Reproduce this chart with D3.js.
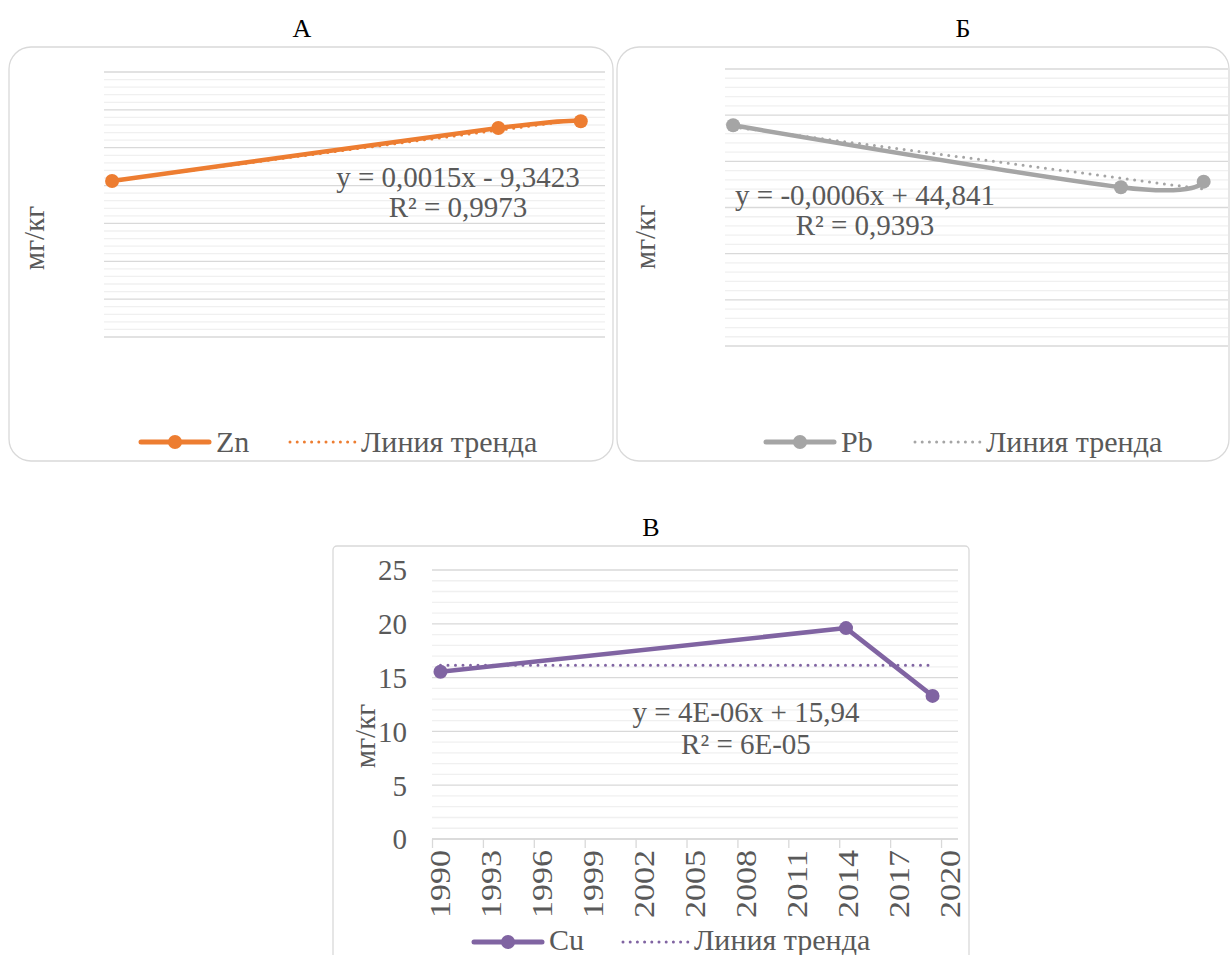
<!DOCTYPE html>
<html><head><meta charset="utf-8">
<script src="https://cdn.jsdelivr.net/npm/d3@7/dist/d3.min.js"></script>
<style>body{margin:0;background:#fff}svg{display:block}</style>
</head><body>
<svg id="c" width="1230" height="955"></svg>
<script>
// ---- data ----
const years = [1990.5, 2014.4, 2019.5];
const zn = [41.2, 55.2, 57.0];
const pb = [23.9, 17.2, 17.8];
const cu = [15.55, 19.6, 13.3];
const xTicks = [1990, 1993, 1996, 1999, 2002, 2005, 2008, 2011, 2014, 2017, 2020];
const cuYTicks = [0, 5, 10, 15, 20, 25];
const panelTitles = ["А", "Б", "В"];
const seriesNames = ["Zn", "Pb", "Cu"];
const trendLabel = "Линия тренда";
const yAxisTitle = "мг/кг";
const eqLines = [
  ["y = 0,0015x - 9,3423", "R² = 0,9973"],
  ["y = -0,0006x + 44,841", "R² = 0,9393"],
  ["y = 4E-06x + 15,94", "R² = 6E-05"]
];

const svg = d3.select("#c");
const FF = "Liberation Serif";
const TXT = "#595959";

function linreg(xs, ys) {
  const n = xs.length, mx = d3.mean(xs), my = d3.mean(ys);
  let sxy = 0, sxx = 0;
  for (let i = 0; i < n; i++) { sxy += (xs[i]-mx)*(ys[i]-my); sxx += (xs[i]-mx)**2; }
  const b = sxy/sxx; return x => my + b*(x-mx);
}

function panel(cfg) {
  const g = svg.append("g");
  g.append("rect").attr("x", cfg.box[0]).attr("y", cfg.box[1])
    .attr("width", cfg.box[2]).attr("height", cfg.box[3])
    .attr("rx", cfg.rx).attr("fill", "#fff").attr("stroke", "#d9d9d9").attr("stroke-width", 1.3);
  g.append("text").attr("x", cfg.title[0]).attr("y", cfg.title[1]).attr("text-anchor", "middle")
    .style("font-family", FF).attr("font-size", 26).attr("fill", "#000").text(cfg.titleText);

  const x = d3.scaleLinear().domain([1990, 2021]).range([cfg.plot[0], cfg.plot[1]]);
  const y = d3.scaleLinear().domain([0, cfg.ymax]).range([cfg.plot[3], cfg.plot[2]]);

  const minors = d3.range(0, cfg.ymax + 1e-9, cfg.minor).filter(v => Math.abs(v / cfg.major - Math.round(v / cfg.major)) > 1e-6);
  g.append("g").selectAll("line").data(minors).join("line")
    .attr("x1", cfg.plot[0]).attr("x2", cfg.plot[1]).attr("y1", d => y(d)).attr("y2", d => y(d))
    .attr("stroke", "#f0f0f0").attr("stroke-width", 1.3);
  const majors = d3.range(0, cfg.ymax + 1e-9, cfg.major);
  g.append("g").selectAll("line").data(majors).join("line")
    .attr("x1", cfg.plot[0]).attr("x2", cfg.plot[1]).attr("y1", d => y(d)).attr("y2", d => y(d))
    .attr("stroke", "#d9d9d9").attr("stroke-width", 1.3);

  if (cfg.axes) {
    const ya = g.append("g").attr("transform", `translate(${cfg.plot[0] - 25},0)`)
      .call(d3.axisLeft(y).tickValues(cuYTicks).tickSize(0).tickFormat(d3.format("d")));
    ya.select(".domain").remove();
    ya.selectAll("text").style("font-family", FF).attr("font-size", 29).attr("fill", TXT)
      .attr("dy", "0.34em").attr("x", 0);
    const xa = g.append("g").attr("transform", `translate(0,${cfg.plot[3]})`)
      .call(d3.axisBottom(x).tickValues(xTicks).tickSize(9).tickFormat(d3.format("d")));
    xa.select(".domain").attr("stroke", "#d9d9d9").attr("stroke-width", 1.3)
      .attr("d", `M${cfg.plot[0]},0H${cfg.plot[1]}`);
    xa.selectAll(".tick line").attr("stroke", "#d9d9d9").attr("stroke-width", 1.3);
    xa.selectAll(".tick text").style("font-family", FF).attr("font-size", 29).attr("fill", TXT)
      .attr("text-anchor", "end").attr("transform", "rotate(-90)")
      .attr("x", -11).attr("y", 0).attr("dy", "0.62em").attr("textLength", 68).attr("lengthAdjust", "spacingAndGlyphs");
  }

  g.append("text").attr("transform", `translate(${cfg.ytitle[0]},${cfg.ytitle[1]}) rotate(-90)`)
    .attr("text-anchor", "middle").style("font-family", FF).attr("font-size", 29).attr("fill", TXT)
    .text(yAxisTitle);

  const f = linreg(years, cfg.data);
  const xs = [years[0], years[years.length - 1]];
  g.append("path").attr("d", d3.line().x(d => x(d)).y(d => y(f(d)))(xs))
    .attr("fill", "none").attr("stroke", cfg.color).attr("stroke-width", 3)
    .attr("stroke-dasharray", "0 7.5").attr("stroke-linecap", "round");

  const pts = years.map((yr, i) => [yr, cfg.data[i]]);
  g.append("path").attr("d", d3.line().x(d => x(d[0])).y(d => y(d[1])).curve(cfg.curve)(pts))
    .attr("fill", "none").attr("stroke", cfg.color).attr("stroke-width", 4.5).attr("stroke-linejoin", "round").attr("stroke-linecap", "round");
  g.append("g").selectAll("circle").data(pts).join("circle")
    .attr("cx", d => x(d[0])).attr("cy", d => y(d[1])).attr("r", 7).attr("fill", cfg.color);

  const eq = g.append("text").style("font-family", FF).attr("font-size", 29).attr("fill", TXT).attr("text-anchor", "middle");
  cfg.eq.forEach((s, i) => eq.append("tspan").attr("x", cfg.eqPos[0]).attr("y", cfg.eqPos[1] + i * cfg.eqGap).text(s));

  const lx = cfg.leg[0], ly = cfg.leg[1];
  g.append("line").attr("x1", lx).attr("x2", lx + 68).attr("y1", ly).attr("y2", ly)
    .attr("stroke", cfg.color).attr("stroke-width", 5).attr("stroke-linecap", "round");
  g.append("circle").attr("cx", lx + 34).attr("cy", ly).attr("r", 7).attr("fill", cfg.color);
  g.append("text").attr("x", lx + 75).attr("y", ly + cfg.legDy).style("font-family", FF).attr("font-size", 30).attr("fill", TXT).text(cfg.name);
  g.append("line").attr("x1", lx + 149).attr("x2", lx + 214).attr("y1", ly).attr("y2", ly)
    .attr("stroke", cfg.color).attr("stroke-width", 3).attr("stroke-dasharray", "0 7.2").attr("stroke-linecap", "round");
  g.append("text").attr("x", lx + 220).attr("y", ly + cfg.legDy).style("font-family", FF).attr("font-size", 30).attr("fill", TXT).text(trendLabel);
}

const smooth = d3.curveCatmullRom.alpha(0);

panel({box: [9, 47, 604, 414], rx: 22, title: [302, 37], titleText: panelTitles[0],
  plot: [104, 605, 72, 337], ymax: 70, major: 10, minor: 2, data: zn, color: "#ED7D31",
  curve: smooth, ytitle: [44, 238], eq: eqLines[0], eqPos: [458, 187], eqGap: 30,
  leg: [141, 442], legDy: 10, name: seriesNames[0], axes: false});

panel({box: [617, 47, 612, 414], rx: 22, title: [963, 37], titleText: panelTitles[1],
  plot: [725, 1228, 69, 346], ymax: 30, major: 5, minor: 1, data: pb, color: "#A5A5A5",
  curve: smooth, ytitle: [655, 237], eq: eqLines[1], eqPos: [865, 205], eqGap: 30,
  leg: [766, 442], legDy: 10, name: seriesNames[1], axes: false});

panel({box: [333, 546, 636, 420], rx: 4, title: [651, 536], titleText: panelTitles[2],
  plot: [432, 958, 570, 839], ymax: 25, major: 5, minor: 1, data: cu, color: "#8064A2",
  curve: d3.curveLinear, ytitle: [375, 736], eq: eqLines[2], eqPos: [746, 722], eqGap: 32,
  leg: [474, 942], legDy: 8, name: seriesNames[2], axes: true});
</script>
</body></html>
